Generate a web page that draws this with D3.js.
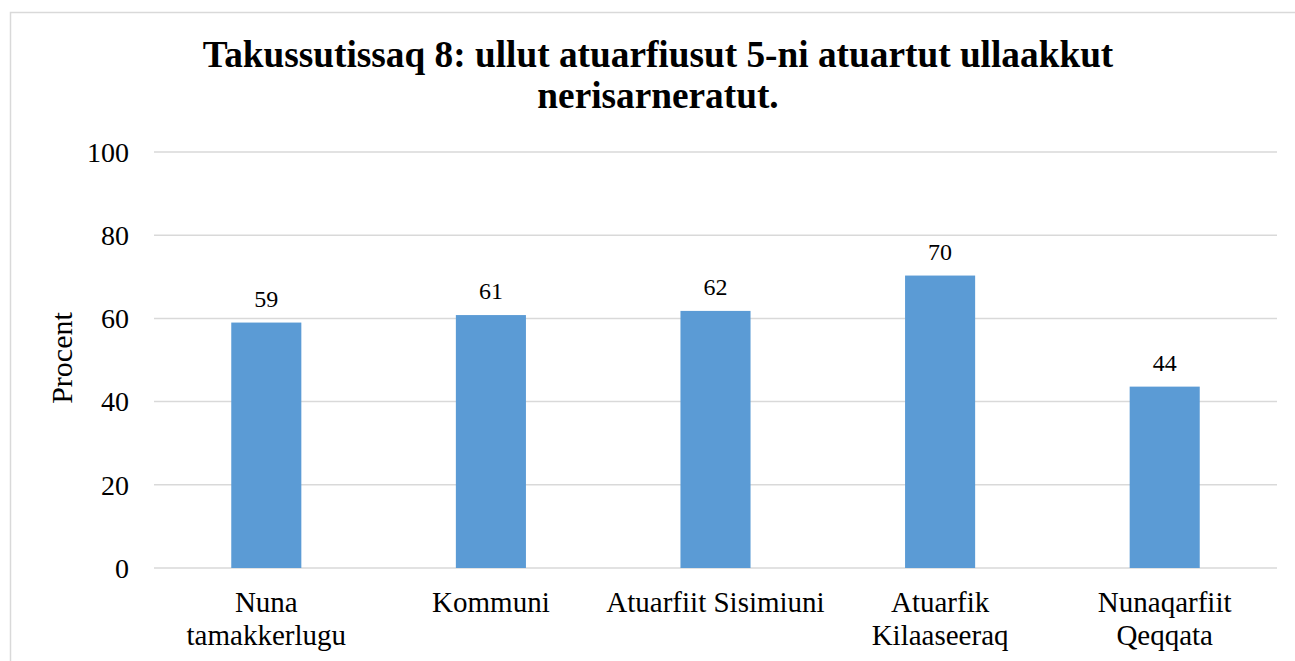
<!DOCTYPE html>
<html>
<head>
<meta charset="utf-8">
<script src="https://cdn.jsdelivr.net/npm/d3@7"></script>
<style>
  body { margin: 0; background: #fff; }
  svg text { font-family: "Liberation Serif", "DejaVu Serif", serif; }
</style>
</head>
<body>
<div class="svg-content"></div>
<script>
const categories = ["Nuna\ntamakkerlugu", "Kommuni", "Atuarfiit Sisimiuni", "Atuarfik\nKilaaseeraq", "Nunaqarfiit\nQeqqata"];
const values = [59.0, 60.8, 61.8, 70.3, 43.6];
const yTicks = [0, 20, 40, 60, 80, 100];
const titleLines = ["Takussutissaq 8: ullut atuarfiusut 5-ni atuartut ullaakkut", "nerisarneratut."];
const yTitle = "Procent";

const svgWidth = 1295;
const svgHeight = 661;

const plotLeft = 154;
const plotRight = 1277;
const plotTop = 152;
const plotBottom = 568;
const serif = "Liberation Serif";

const svg = d3.select(".svg-content")
              .append("svg")
              .attr("width", svgWidth)
              .attr("height", svgHeight)
              .style("display", "block");

// chart border (cut off at right and bottom like the screenshot)
svg.append("rect")
   .attr("x", 10.5)
   .attr("y", 12.5)
   .attr("width", 1300)
   .attr("height", 700)
   .attr("fill", "#fff")
   .attr("stroke", "#d9d9d9")
   .attr("stroke-width", 1.5);

const xScale = d3.scaleBand()
                 .domain(categories)
                 .range([plotLeft, plotRight])
                 .paddingInner(0.688)
                 .paddingOuter(0.344);

const yScale = d3.scaleLinear()
                 .domain([0, 100])
                 .range([plotBottom, plotTop]);

// gridlines
svg.append("g")
   .selectAll("line")
   .data(yTicks)
   .enter()
   .append("line")
   .attr("x1", plotLeft)
   .attr("x2", plotRight)
   .attr("y1", d => yScale(d))
   .attr("y2", d => yScale(d))
   .attr("stroke", "#d9d9d9")
   .attr("stroke-width", 1.5);

// y tick labels
svg.append("g")
   .selectAll("text")
   .data(yTicks)
   .enter()
   .append("text")
   .attr("x", 129)
   .attr("y", d => yScale(d))
   .attr("dy", "0.35em")
   .attr("text-anchor", "end")
   .attr("font-family", serif)
   .attr("font-size", 28)
   .attr("fill", "#000")
   .text(d => d);

// bars
svg.append("g")
   .selectAll("rect")
   .data(values)
   .enter()
   .append("rect")
   .attr("x", (d, i) => xScale(categories[i]))
   .attr("y", d => yScale(d))
   .attr("width", xScale.bandwidth())
   .attr("height", d => plotBottom - yScale(d))
   .attr("fill", "#5b9bd5");

// data labels
svg.append("g")
   .selectAll("text")
   .data(values)
   .enter()
   .append("text")
   .attr("x", (d, i) => xScale(categories[i]) + xScale.bandwidth() / 2)
   .attr("y", d => yScale(d) - 16)
   .attr("text-anchor", "middle")
   .attr("font-family", serif)
   .attr("font-size", 24)
   .attr("fill", "#000")
   .text(d => Math.round(d));

// category labels
const catLabels = svg.append("g")
   .selectAll("text")
   .data(categories)
   .enter()
   .append("text")
   .attr("x", d => xScale(d) + xScale.bandwidth() / 2)
   .attr("y", 612)
   .attr("text-anchor", "middle")
   .attr("font-family", serif)
   .attr("font-size", 29)
   .attr("fill", "#000");

catLabels.selectAll("tspan")
   .data(d => d.split("\n"))
   .enter()
   .append("tspan")
   .attr("x", function() { return d3.select(this.parentNode).attr("x"); })
   .attr("dy", (d, i) => i === 0 ? 0 : 33)
   .text(d => d);

// y axis title
svg.append("text")
   .attr("transform", "translate(72,358) rotate(-90)")
   .attr("text-anchor", "middle")
   .attr("font-family", serif)
   .attr("font-size", 30)
   .attr("fill", "#000")
   .text(yTitle);

// chart title
svg.append("g")
   .selectAll("text")
   .data(titleLines)
   .enter()
   .append("text")
   .attr("x", 658)
   .attr("y", (d, i) => 67 + i * 41)
   .attr("text-anchor", "middle")
   .attr("font-family", serif)
   .attr("font-size", 37.3)
   .attr("font-weight", "bold")
   .attr("fill", "#000")
   .text(d => d);
</script>
</body>
</html>
